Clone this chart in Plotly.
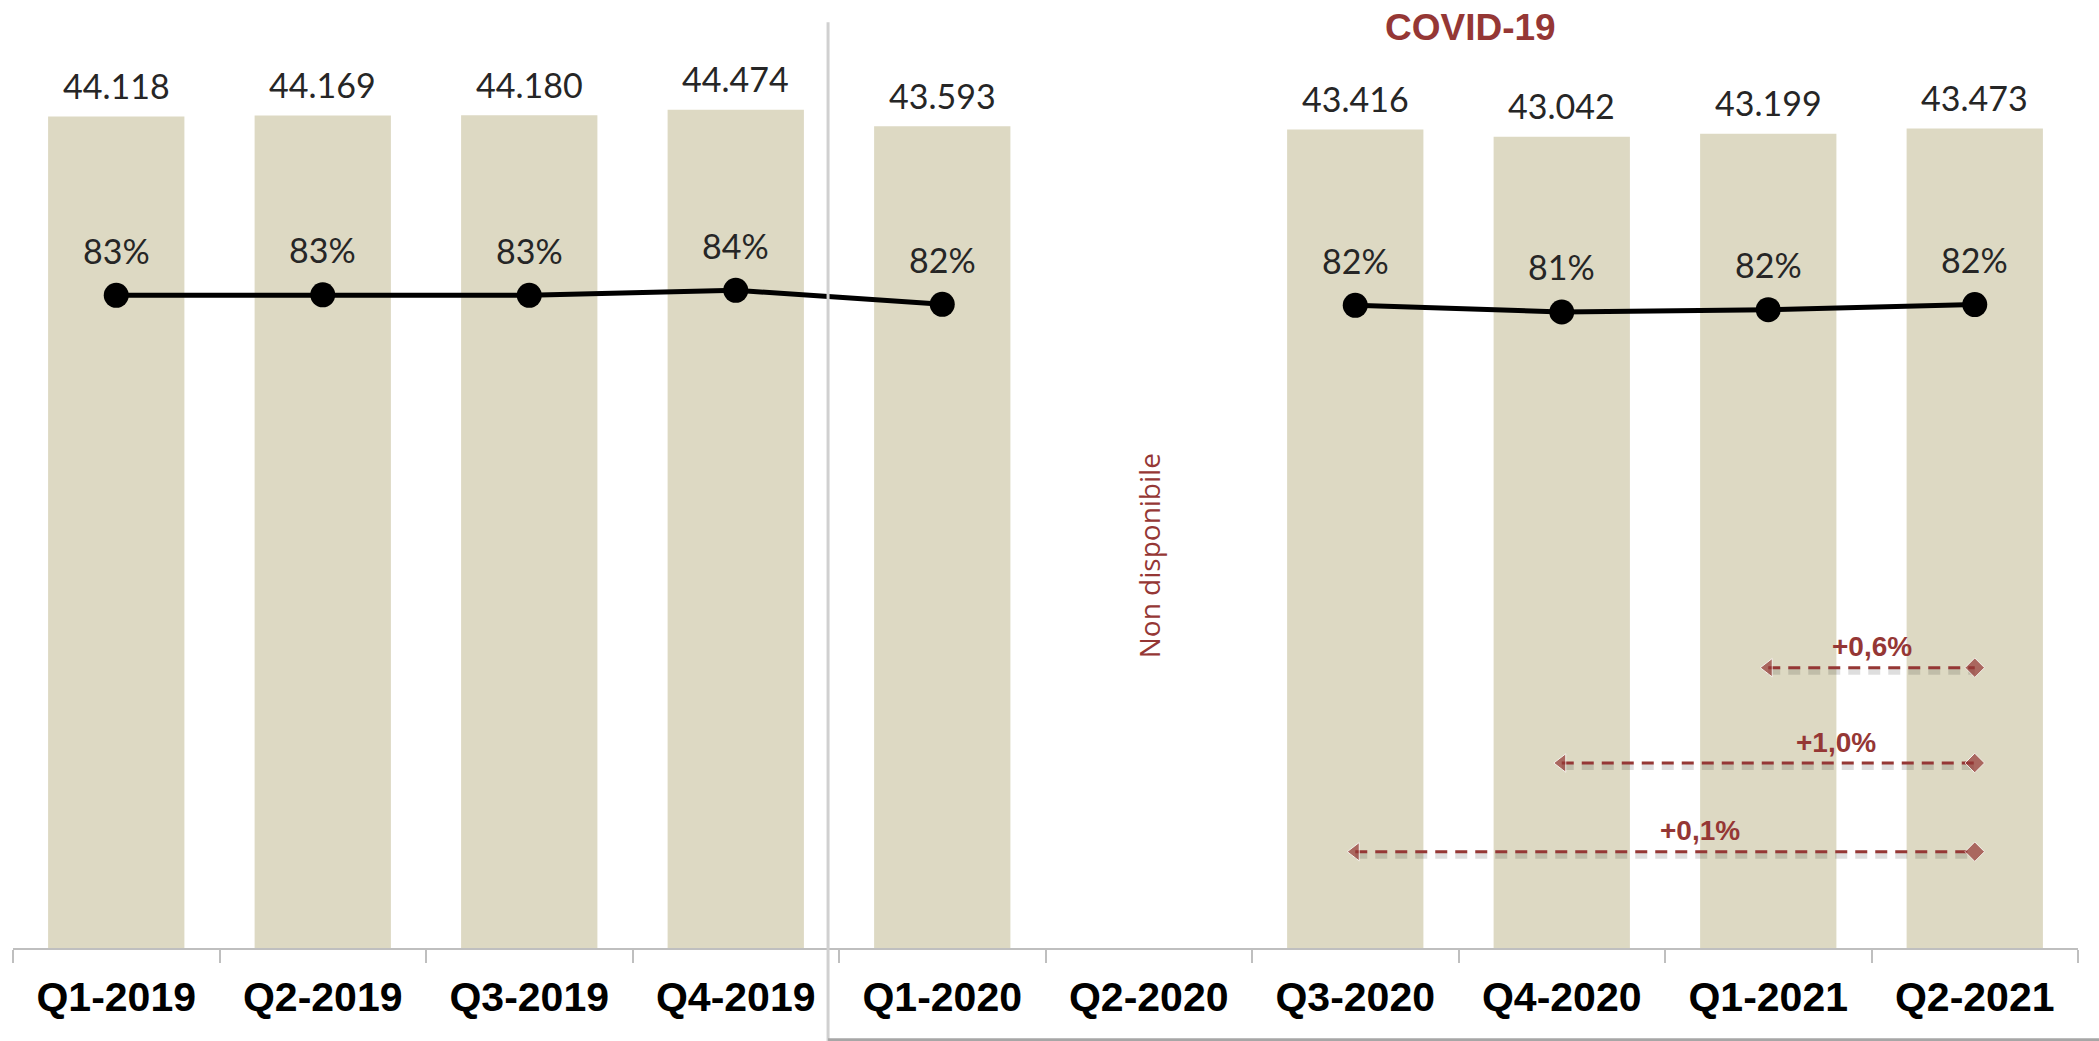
import plotly.graph_objects as go

# ---------------- data ----------------
quarters = ["Q1-2019", "Q2-2019", "Q3-2019", "Q4-2019", "Q1-2020",
            "Q2-2020", "Q3-2020", "Q4-2020", "Q1-2021", "Q2-2021"]
occupati = [44118, 44169, 44180, 44474, 43593, None, 43416, 43042, 43199, 43473]
tasso = [0.8322, 0.8328, 0.8322, 0.8378, 0.8222, None, 0.8211, 0.8137, 0.8163, 0.8219]
confronti_da = ["Q1-2021", "Q4-2020", "Q3-2020"]
confronto_a = "Q2-2021"
label_non_disp = "Non disponibile"
titolo_covid = "COVID-19"

# ---------------- styles ----------------
BAR = "#DDD9C3"
RED = "#953735"
GREY = "#BFBFBF"
W, H = 2099, 1041
ML, MR, MT, MB = 13, 21, 60, 93
PLOT_H = H - MT - MB
Y1_MAX = 47109
Y2_MIN, Y2_MAX = 0.1070, 1.0937
px_per_unit = PLOT_H / Y1_MAX

fig = go.Figure()

fig.add_trace(go.Bar(
    x=quarters, y=occupati, marker=dict(color=BAR, line=dict(width=0)),
    width=0.66, hoverinfo="skip", showlegend=False))

fig.add_trace(go.Scatter(
    x=quarters, y=tasso, yaxis="y2", mode="lines+markers",
    line=dict(color="black", width=5), marker=dict(color="black", size=25),
    connectgaps=False, hoverinfo="skip", showlegend=False))

annotations = []
for q, v in zip(quarters, occupati):
    if v is None:
        continue
    annotations.append(dict(
        x=q, y=v, xref="x", yref="y", text=f"{v:,}".replace(",", "."),
        showarrow=False, yanchor="middle", yshift=31,
        font=dict(family="Lato, Open Sans, sans-serif", size=34, color="#262626")))
for q, p in zip(quarters, tasso):
    if p is None:
        continue
    annotations.append(dict(
        x=q, y=p, xref="x", yref="y2", text=f"{round(p * 100)}%",
        showarrow=False, yanchor="middle", yshift=45,
        font=dict(family="Lato, Open Sans, sans-serif", size=34, color="#262626")))

# comparison arrows
val = dict(zip(quarters, occupati))
arrow_y_px = [667.7, 763.0, 851.7]          # vertical pixel position of each arrow
label_x = [8.5, 8.33, 7.67]                 # label centres on category axis
for src, ypx, lx in zip(confronti_da, arrow_y_px, label_x):
    yv = (MT + PLOT_H - ypx) / px_per_unit
    shadow = 4 / px_per_unit
    fig.add_trace(go.Scatter(
        x=[src, confronto_a], y=[yv - shadow, yv - shadow], mode="lines",
        line=dict(color="rgba(0,0,0,0.13)", width=6, dash="12px,8px"),
        hoverinfo="skip", showlegend=False))
    fig.add_trace(go.Scatter(
        x=[src, confronto_a], y=[yv, yv], mode="lines+markers",
        line=dict(color=RED, width=3, dash="12px,8px"),
        marker=dict(color=RED, size=[16, 15], symbol=["triangle-left", "diamond"]),
        hoverinfo="skip", showlegend=False))
    pct = (val[confronto_a] / val[src] - 1) * 100
    annotations.append(dict(
        x=lx, y=yv, xref="x", yref="y", text="+" + f"{pct:.1f}".replace(".", ",") + "%",
        showarrow=False, yanchor="middle", yshift=21,
        font=dict(family="Liberation Sans, Arial, sans-serif", size=28, color=RED, weight="bold")))

annotations.append(dict(
    x="Q2-2020", y=0.442, xref="x", yref="paper", text=label_non_disp, textangle=-90,
    showarrow=False, font=dict(family="Open Sans, sans-serif", size=28, color=RED)))
annotations.append(dict(
    x=0.7056, y=1.037, xref="paper", yref="paper", text=titolo_covid,
    showarrow=False, xanchor="center", yanchor="middle",
    font=dict(family="Liberation Sans, Arial, sans-serif", size=37, color=RED, weight="bold")))

shapes = [
    dict(type="line", xref="paper", yref="paper", x0=0.3947, x1=0.3947, y0=1.0425, y1=-0.105,
         line=dict(color="#D0D0D0", width=3)),
    dict(type="line", xref="paper", yref="paper", x0=0.3947, x1=1.0102, y0=-0.1034, y1=-0.1034,
         line=dict(color="#A6A6A6", width=3)),
]

fig.update_layout(
    width=W, height=H, margin=dict(l=ML, r=MR, t=MT, b=MB),
    paper_bgcolor="white", plot_bgcolor="white",
    annotations=annotations, shapes=shapes, bargap=0.34,
    xaxis=dict(type="category", range=[-0.5, 9.5], showgrid=False, zeroline=False,
               showline=True, linecolor=GREY, linewidth=2,
               ticks="outside", tickson="boundaries", ticklen=13, tickwidth=2, tickcolor=GREY,
               tickfont=dict(family="Liberation Sans, Arial, sans-serif", size=41,
                             color="black", weight="bold"),
               ticklabelstandoff=12),
    yaxis=dict(range=[0, Y1_MAX], visible=False, showgrid=False, zeroline=False),
    yaxis2=dict(range=[Y2_MIN, Y2_MAX], overlaying="y", visible=False,
                showgrid=False, zeroline=False),
)

fig.write_html("out.html", config={"displayModeBar": False},
               post_script="document.body.style.margin='0';")
